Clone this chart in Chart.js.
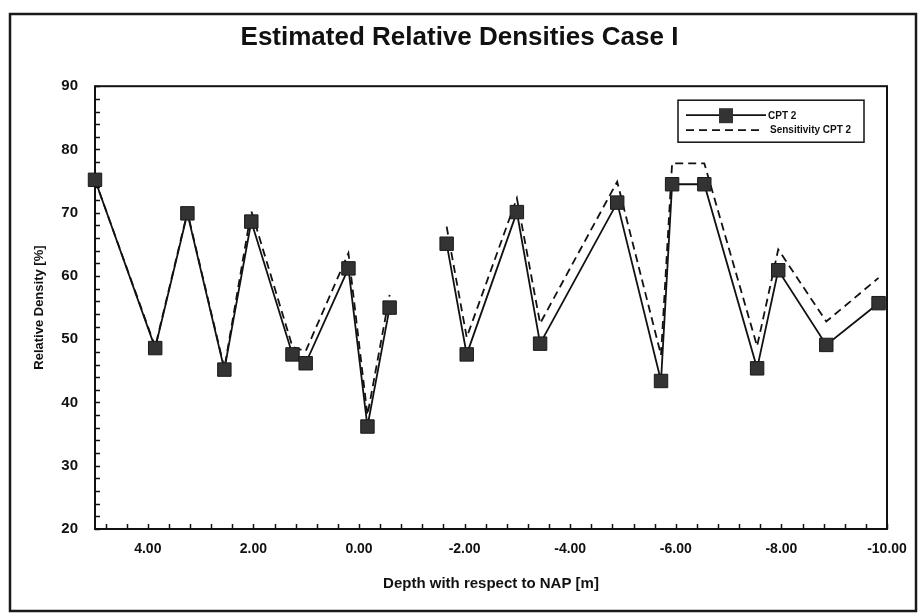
<!DOCTYPE html>
<html lang="en">
<head>
  <meta charset="UTF-8" />
  <title>Estimated Relative Densities Case I</title>
  <script src="https://cdn.jsdelivr.net/npm/chart.js"></script>
  <style>
    html, body { margin: 0; padding: 0; background: #fff; }
    canvas { display: block; }
  </style>
</head>
<body>
  <canvas id="grafico" width="921" height="616"></canvas>

  <script>
    // depth [m] w.r.t. NAP, null marks the break in the profile
    const depths = [5.0, 3.86, 3.25, 2.55, 2.04, 1.26, 1.01, 0.20, -0.16, -0.58, -1.10,
                    -1.66, -2.04, -2.99, -3.43, -4.89, -5.72, -5.93, -6.54, -7.54, -7.94, -8.85, -9.84];
    const cpt2 = [75.2, 48.6, 69.9, 45.2, 68.6, 47.6, 46.2, 61.2, 36.2, 55.0, null,
                  65.1, 47.6, 70.1, 49.3, 71.6, 43.4, 74.5, 74.5, 45.4, 60.9, 49.1, 55.7];
    const sensitivityCpt2 = [75.2, 48.8, 70.1, 45.4, 70.3, 48.8, 48.1, 63.6, 38.0, 57.0, null,
                             67.8, 50.3, 72.3, 52.5, 74.9, 47.5, 77.8, 77.8, 48.9, 64.2, 52.8, 59.7];
    const xTicks = [4, 2, 0, -2, -4, -6, -8, -10];
    const yTicks = [20, 30, 40, 50, 60, 70, 80, 90];

    const toPoints = vals => depths.map((d, i) => ({ x: d, y: vals[i] }));

    Chart.defaults.font.family = "'Liberation Sans', Arial, sans-serif";
    Chart.defaults.color = "#111";

    // frame, inward tick marks and the boxed legend
    const decor = {
      id: "decor",
      beforeDraw(chart) {
        const ctx = chart.ctx;
        ctx.save();
        ctx.fillStyle = "#fff";
        ctx.fillRect(0, 0, chart.width, chart.height);
        ctx.strokeStyle = "#1a1a1a";
        ctx.lineWidth = 2.5;
        ctx.strokeRect(10, 14, 906, 597);
        ctx.restore();
      },
      beforeDatasetsDraw(chart) {
        const { ctx, chartArea: a, scales } = chart;
        const xs = scales.x, ys = scales.y;
        ctx.save();
        ctx.strokeStyle = "#111";
        ctx.lineWidth = 1.5;
        ctx.beginPath();
        for (let v = -10; v <= 5.001; v += 0.4) {
          const px = Math.round(xs.getPixelForValue(v)) + 0.5;
          ctx.moveTo(px, a.bottom);
          ctx.lineTo(px, a.bottom - 5);
        }
        for (let v = 20; v <= 90; v += 2) {
          const py = Math.round(ys.getPixelForValue(v)) + 0.5;
          ctx.moveTo(a.left, py);
          ctx.lineTo(a.left + 5, py);
        }
        ctx.stroke();
        ctx.lineWidth = 2;
        ctx.strokeRect(a.left, a.top, a.right - a.left, a.bottom - a.top);
        ctx.restore();
      },
      afterDatasetsDraw(chart) {
        const { ctx, chartArea: a } = chart;
        // legend
        const lx = a.right - 209, ly = a.top + 14, lw = 186, lh = 42;
        ctx.save();
        ctx.strokeStyle = "#111";
        ctx.fillStyle = "#fff";
        ctx.fillRect(lx, ly, lw, lh);
        ctx.lineWidth = 1.5;
        ctx.strokeRect(lx, ly, lw, lh);
        const ds = chart.data.datasets;
        ctx.lineWidth = 1.8;
        ctx.beginPath();
        ctx.moveTo(lx + 8, ly + 15);
        ctx.lineTo(lx + 88, ly + 15);
        ctx.stroke();
        ctx.fillStyle = "#333";
        ctx.fillRect(lx + 41, ly + 8, 14, 15);
        ctx.setLineDash([8, 5]);
        ctx.beginPath();
        ctx.moveTo(lx + 8, ly + 30);
        ctx.lineTo(lx + 84, ly + 30);
        ctx.stroke();
        ctx.setLineDash([]);
        ctx.fillStyle = "#111";
        ctx.font = "bold 10px 'Liberation Sans', Arial, sans-serif";
        ctx.textBaseline = "middle";
        ctx.fillText(ds[0].label, lx + 90, ly + 16);
        ctx.fillText(ds[1].label, lx + 92, ly + 30);
        ctx.restore();
      }
    };

    new Chart(document.getElementById("grafico"), {
      type: "line",
      data: {
        datasets: [
          {
            label: "CPT 2",
            data: toPoints(cpt2),
            borderColor: "#111",
            borderWidth: 1.8,
            pointStyle: "rect",
            pointRadius: 9.5,
            pointBackgroundColor: "#333",
            pointBorderColor: "#1a1a1a",
            pointBorderWidth: 1,
            spanGaps: false,
            clip: false,
            order: 0
          },
          {
            label: "Sensitivity CPT 2",
            data: toPoints(sensitivityCpt2),
            borderColor: "#111",
            borderWidth: 1.8,
            borderDash: [8, 5],
            pointRadius: 0,
            spanGaps: false,
            clip: false,
            order: 1
          }
        ]
      },
      options: {
        responsive: false,
        animation: false,
        layout: { padding: { left: 32, right: 34, top: 0, bottom: 0 } },
        scales: {
          x: {
            type: "linear",
            reverse: true,
            min: -10,
            max: 5,
            afterBuildTicks: axis => { axis.ticks = xTicks.map(v => ({ value: v })); },
            afterFit: s => { s.height = 87; },
            grid: { display: false, drawTicks: false },
            border: { display: false },
            ticks: {
              padding: 12,
              maxRotation: 0,
              font: { size: 14, weight: "bold" },
              callback: v => v.toFixed(2)
            },
            title: {
              display: true,
              text: "Depth with respect to NAP [m]",
              font: { size: 15, weight: "bold" },
              padding: { top: 23, bottom: 23 }
            }
          },
          y: {
            min: 20,
            max: 90,
            afterBuildTicks: axis => { axis.ticks = yTicks.map(v => ({ value: v })); },
            afterFit: s => { s.width = 63; },
            grid: { display: false, drawTicks: false },
            border: { display: false },
            ticks: { padding: 17, font: { size: 15, weight: "bold" } },
            title: {
              display: true,
              text: "Relative Density [%]",
              font: { size: 13, weight: "bold" },
              padding: { top: 0, bottom: 0 }
            }
          }
        },
        plugins: {
          legend: { display: false },
          tooltip: { enabled: false },
          title: {
            display: true,
            text: "Estimated Relative Densities Case I",
            color: "#111",
            font: { size: 26, weight: "bold" },
            padding: { top: 22, bottom: 33 }
          }
        }
      },
      plugins: [decor]
    });
  </script>
</body>
</html>
